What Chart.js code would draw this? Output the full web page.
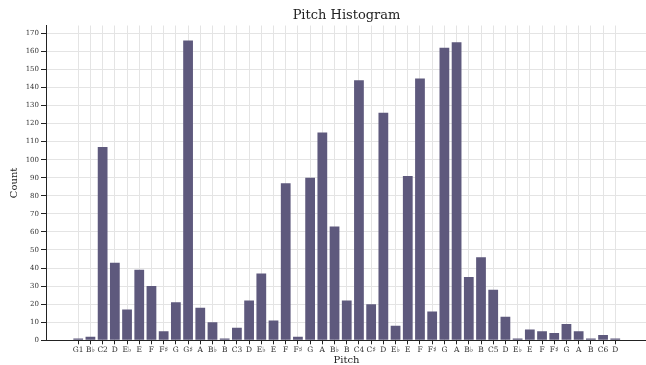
<!DOCTYPE html>
<html>
<head>
<meta charset="utf-8">
<script src="https://cdn.jsdelivr.net/npm/chart.js@4/dist/chart.umd.min.js"></script>
<style>
  html, body { margin: 0; padding: 0; overflow: hidden; background: #ffffff; }
  #chart { display: block; }
</style>
</head>
<body>
<canvas id="chart" width="694" height="365"></canvas>
<script>
// Pitch names in order of ascending pitch
const pitches = ["G1","B♭","C2","D","E♭","E","F","F♯","G","G♯","A","B♭","B","C3","D","E♭","E","F","F♯","G","A","B♭","B","C4","C♯","D","E♭","E","F","F♯","G","A","B♭","B","C5","D","E♭","E","F","F♯","G","A","B","C6","D"];
// Number of occurrences of each pitch
const counts = [1,2,107,43,17,39,30,5,21,166,18,10,1,7,22,37,11,87,2,90,115,63,22,144,20,126,8,91,145,16,162,165,35,46,28,13,1,6,5,4,9,5,1,3,1];
// Count axis tick values
const countTicks = [0,10,20,30,40,50,60,70,80,90,100,110,120,130,140,150,160,170];
const chartTitle = 'Pitch Histogram';

const serif = "'DejaVu Serif', 'Liberation Serif', serif";
const ink = '#222222';
const gridGray = '#e4e4e4';

const points = counts.map((c, i) => ({ x: i, y: c }));

// Title centred over the plotting area rather than the whole canvas
const plotTitle = {
  id: 'plotTitle',
  afterDraw(chart) {
    const { ctx, chartArea } = chart;
    ctx.save();
    ctx.font = `normal 13px ${serif}`;
    ctx.fillStyle = ink;
    ctx.textAlign = 'center';
    ctx.textBaseline = 'middle';
    ctx.fillText(chartTitle, (chartArea.left + chartArea.right) / 2, 16);
    ctx.restore();
  }
};

new Chart(document.getElementById('chart'), {
  type: 'bar',
  data: {
    datasets: [{
      data: points,
      backgroundColor: '#5e597d',
      borderWidth: 0,
      categoryPercentage: 1.0,
      barPercentage: 0.8
    }]
  },
  plugins: [plotTitle],
  options: {
    responsive: false,
    animation: false,
    layout: { padding: { left: 0, right: 47, top: 25.5, bottom: 0 } },
    plugins: {
      legend: { display: false },
      tooltip: { enabled: false },
      title: { display: false }
    },
    scales: {
      x: {
        type: 'linear',
        offset: false,
        min: -2.64,
        max: 46.6,
        afterBuildTicks: (scale) => {
          scale.ticks = pitches.map((_, i) => ({ value: i }));
        },
        afterFit: (scale) => { scale.height = 24.7; },
        ticks: {
          autoSkip: false,
          maxRotation: 0,
          minRotation: 0,
          padding: 1,
          color: '#333333',
          font: { family: serif, size: 7.5, lineHeight: 1.2 },
          callback: (v) => pitches[v]
        },
        grid: {
          offset: false,
          color: gridGray,
          lineWidth: 1,
          tickColor: ink,
          tickLength: 4,
          tickWidth: 1
        },
        border: { display: true, color: ink, width: 1 },
        title: {
          display: true,
          text: 'Pitch',
          color: ink,
          font: { family: serif, size: 10, lineHeight: 1.0 },
          padding: { top: 0, bottom: 0 }
        }
      },
      y: {
        min: 0,
        max: 174.3,
        afterBuildTicks: (scale) => {
          scale.ticks = countTicks.map(v => ({ value: v }));
        },
        afterFit: (scale) => { scale.width = 46; },
        ticks: {
          padding: 2,
          color: '#333333',
          font: { family: serif, size: 7, lineHeight: 1.2 }
        },
        grid: {
          color: gridGray,
          lineWidth: 1,
          tickColor: ink,
          tickLength: 5,
          tickWidth: 1
        },
        border: { display: true, color: ink, width: 1 },
        title: {
          display: true,
          text: 'Count',
          color: ink,
          font: { family: serif, size: 10, lineHeight: 1.0 },
          padding: { top: 9, bottom: 0 }
        }
      }
    }
  }
});
</script>
</body>
</html>
